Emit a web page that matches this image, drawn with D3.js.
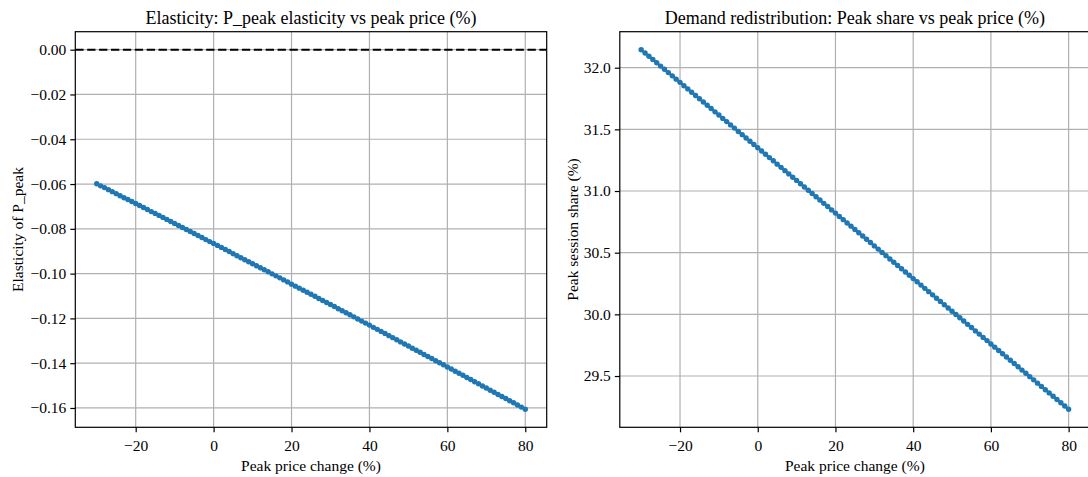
<!DOCTYPE html>
<html><head><meta charset="utf-8">
<script src="https://cdn.jsdelivr.net/npm/d3@7"></script>
<style>
html,body{margin:0;padding:0;background:#fff;}
svg{display:block;font-family:"Liberation Serif","Times New Roman",serif;}
</style></head>
<body><svg id="c" width="1088" height="477"></svg>
<script>
const priceChange = [-30,-29,-28,-27,-26,-25,-24,-23,-22,-21,-20,-19,-18,-17,-16,-15,-14,-13,-12,-11,-10,-9,-8,-7,-6,-5,-4,-3,-2,-1,0,1,2,3,4,5,6,7,8,9,10,11,12,13,14,15,16,17,18,19,20,21,22,23,24,25,26,27,28,29,30,31,32,33,34,35,36,37,38,39,40,41,42,43,44,45,46,47,48,49,50,51,52,53,54,55,56,57,58,59,60,61,62,63,64,65,66,67,68,69,70,71,72,73,74,75,76,77,78,79,80];
const elasticity = [-0.0599,-0.0608,-0.0616,-0.0625,-0.0634,-0.0643,-0.0652,-0.0661,-0.0669,-0.0678,-0.0687,-0.0696,-0.0705,-0.0714,-0.0723,-0.0731,-0.0740,-0.0749,-0.0758,-0.0767,-0.0776,-0.0785,-0.0794,-0.0803,-0.0812,-0.0821,-0.0830,-0.0839,-0.0848,-0.0857,-0.0865,-0.0874,-0.0883,-0.0892,-0.0901,-0.0911,-0.0920,-0.0929,-0.0938,-0.0947,-0.0956,-0.0965,-0.0974,-0.0983,-0.0992,-0.1001,-0.1010,-0.1019,-0.1028,-0.1037,-0.1047,-0.1056,-0.1065,-0.1074,-0.1083,-0.1092,-0.1101,-0.1111,-0.1120,-0.1129,-0.1138,-0.1147,-0.1157,-0.1166,-0.1175,-0.1184,-0.1193,-0.1203,-0.1212,-0.1221,-0.1230,-0.1240,-0.1249,-0.1258,-0.1267,-0.1277,-0.1286,-0.1295,-0.1305,-0.1314,-0.1323,-0.1333,-0.1342,-0.1351,-0.1361,-0.1370,-0.1379,-0.1389,-0.1398,-0.1407,-0.1417,-0.1426,-0.1436,-0.1445,-0.1454,-0.1464,-0.1473,-0.1483,-0.1492,-0.1502,-0.1511,-0.1521,-0.1530,-0.1540,-0.1549,-0.1558,-0.1568,-0.1577,-0.1587,-0.1596,-0.1606];
const peakShare = [32.146,32.119,32.093,32.066,32.040,32.013,31.987,31.960,31.934,31.907,31.881,31.854,31.828,31.801,31.775,31.748,31.722,31.695,31.669,31.642,31.616,31.589,31.563,31.536,31.510,31.483,31.457,31.430,31.404,31.377,31.351,31.324,31.298,31.271,31.245,31.218,31.192,31.165,31.139,31.112,31.086,31.059,31.033,31.006,30.980,30.953,30.927,30.900,30.874,30.847,30.821,30.794,30.768,30.741,30.715,30.688,30.662,30.635,30.609,30.582,30.555,30.529,30.502,30.476,30.449,30.423,30.396,30.370,30.343,30.317,30.290,30.264,30.237,30.211,30.184,30.158,30.131,30.105,30.078,30.052,30.025,29.999,29.972,29.946,29.919,29.893,29.866,29.840,29.813,29.787,29.760,29.734,29.707,29.681,29.654,29.628,29.601,29.575,29.548,29.522,29.495,29.469,29.442,29.416,29.389,29.363,29.336,29.310,29.283,29.257,29.230];
const xTicks = [-20,0,20,40,60,80];
const yTicksLeft = [0,-0.02,-0.04,-0.06,-0.08,-0.10,-0.12,-0.14,-0.16];
const yTicksRight = [29.5,30.0,30.5,31.0,31.5,32.0];
const refLine = [0];

const svg = d3.select("#c");
const blue = "#1f77b4";
const fmtMinus = s => s.replace("-", "\u2212");

function panel(cfg){
  const {x0,x1,y0,y1} = cfg;
  const xDom = d3.extent(priceChange);
  const xPad = (xDom[1]-xDom[0])*0.05;
  const x = d3.scaleLinear().domain([xDom[0]-xPad, xDom[1]+xPad]).range([x0,x1]);
  let yDom = d3.extent(cfg.values.concat(cfg.extra||[]));
  const yPad = (yDom[1]-yDom[0])*0.05;
  const y = d3.scaleLinear().domain([yDom[0]-yPad, yDom[1]+yPad]).range([y1,y0]);
  const g = svg.append("g");
  const clipId = "clip"+cfg.id;
  svg.append("clipPath").attr("id",clipId).append("rect")
    .attr("x",x0).attr("y",y0).attr("width",x1-x0).attr("height",y1-y0);
  const grid = g.append("g").attr("clip-path",`url(#${clipId})`);
  grid.selectAll("line.gx").data(xTicks).join("line")
    .attr("x1",d=>x(d)).attr("x2",d=>x(d)).attr("y1",y0).attr("y2",y1)
    .attr("stroke","#b0b0b0").attr("stroke-width",1.2);
  grid.selectAll("line.gy").data(cfg.yTicks).join("line")
    .attr("y1",d=>y(d)).attr("y2",d=>y(d)).attr("x1",x0).attr("x2",x1)
    .attr("stroke","#b0b0b0").attr("stroke-width",1.2);
  const plot = g.append("g").attr("clip-path",`url(#${clipId})`);
  if (cfg.extra){
    plot.selectAll("line.ref").data(cfg.extra).join("line")
      .attr("x1",x0).attr("x2",x1).attr("y1",d=>y(d)).attr("y2",d=>y(d))
      .attr("stroke","#000").attr("stroke-width",2.1).attr("stroke-dasharray","8.3,3.6");
  }
  const pts = priceChange.map((p,i)=>[p,cfg.values[i]]);
  plot.append("path").datum(pts)
    .attr("d", d3.line().x(d=>x(d[0])).y(d=>y(d[1])))
    .attr("fill","none").attr("stroke",blue).attr("stroke-width",2.3);
  plot.selectAll("circle").data(pts).join("circle")
    .attr("cx",d=>x(d[0])).attr("cy",d=>y(d[1])).attr("r",2.7).attr("fill",blue);
  const xAxis = d3.axisBottom(x).tickValues(xTicks).tickSize(5).tickPadding(8)
    .tickFormat(d=>fmtMinus(d3.format("d")(d)));
  const ax = g.append("g").attr("transform",`translate(0,${y1})`).call(xAxis);
  const yAxis = d3.axisLeft(y).tickValues(cfg.yTicks).tickSize(5).tickPadding(4)
    .tickFormat(d=>fmtMinus(d3.format(cfg.yFmt)(d)));
  const ay = g.append("g").attr("transform",`translate(${x0},0)`).call(yAxis);
  [ax,ay].forEach(a=>{
    a.select(".domain").remove();
    a.selectAll(".tick line").attr("stroke","#000").attr("stroke-width",1.2);
    a.selectAll(".tick text").attr("fill","#000").style("font-size","15.5px")
      .style("font-family","'Liberation Serif','Times New Roman',serif");
  });
  g.append("rect").attr("x",x0).attr("y",y0).attr("width",x1-x0).attr("height",y1-y0)
    .attr("fill","none").attr("stroke","#000").attr("stroke-width",1.2);
  g.append("text").attr("x",(x0+x1)/2).attr("y",y0-8).attr("text-anchor","middle")
    .style("font-size","18px").text(cfg.title);
  g.append("text").attr("x",(x0+x1)/2).attr("y",471).attr("text-anchor","middle")
    .style("font-size","15.5px").text("Peak price change (%)");
  g.append("text").attr("transform",`translate(${cfg.yLabelX},${(y0+y1)/2}) rotate(-90)`)
    .attr("text-anchor","middle").style("font-size","15.5px").text(cfg.yLabel);
}

panel({id:1,x0:75.3,x1:546.7,y0:31.7,y1:427.3,values:elasticity,extra:refLine,
  yTicks:yTicksLeft,yFmt:".2f",title:"Elasticity: P_peak elasticity vs peak price (%)",
  yLabel:"Elasticity of P_peak",yLabelX:23});
panel({id:2,x0:619.8,x1:1090,y0:31.7,y1:427.3,values:peakShare,
  yTicks:yTicksRight,yFmt:".1f",title:"Demand redistribution: Peak share vs peak price (%)",
  yLabel:"Peak session share (%)",yLabelX:578});
</script></body></html>
